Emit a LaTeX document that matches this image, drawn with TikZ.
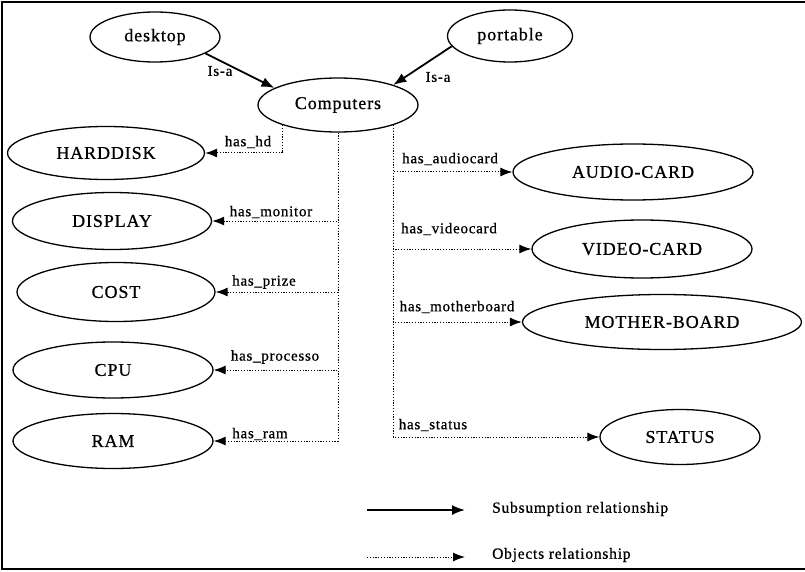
\documentclass[tikz,border=0pt]{standalone}
\usepackage{fontspec}
\setmainfont{Liberation Serif}
\newfontfamily\spacedserif[LetterSpace=5,FakeBold=0.8]{Liberation Serif}
\usetikzlibrary{shapes.geometric,arrows.meta}

\begin{document}
\begin{tikzpicture}[x=1pt,y=-1pt,
  concept/.style={draw,ellipse,line width=1.3pt,inner sep=0pt,
    font=\spacedserif\fontsize{18}{20}\selectfont},
  lbl/.style={inner sep=0pt,font=\spacedserif\fontsize{15}{17}\selectfont},
  legendtext/.style={inner sep=0pt,anchor=west,
    font=\spacedserif\fontsize{15.5}{17}\selectfont},
  isa/.style={line width=1.8pt,-{Latex[length=13pt,width=10pt]}},
  hasrel/.style={line width=1pt,dash pattern=on 1.2pt off 1.6pt,
    -{Latex[length=12pt,width=9pt]}},
]
\useasboundingbox (0,0) rectangle (805,572);

% frame (right side runs off the page)
\draw[line width=2pt] (808,2.5) -- (1.5,2.5) -- (1.5,569) -- (808,569);

% concepts
\node[concept,minimum width=130,minimum height=50] (desktop)  at (155,37)  {desktop};
\node[concept,minimum width=125,minimum height=52] (portable) at (510,36)  {portable};
\node[concept,minimum width=160,minimum height=54] (comp)     at (338,105) {Computers};

\node[concept,minimum width=197,minimum height=53] (hdd)  at (106,153) {HARDDISK};
\node[concept,minimum width=199,minimum height=57] (disp) at (112,221) {DISPLAY};
\node[concept,minimum width=198,minimum height=59] (cost) at (116,292) {COST};
\node[concept,minimum width=200,minimum height=56] (cpu)  at (113,370) {CPU};
\node[concept,minimum width=200,minimum height=55] (ram)  at (113,441) {RAM};

\node[concept,minimum width=240,minimum height=56] (audio)  at (633,172) {AUDIO-CARD};
\node[concept,minimum width=220,minimum height=58] (video)  at (642,249) {VIDEO-CARD};
\node[concept,minimum width=279,minimum height=55] (mboard) at (662,322) {MOTHER-BOARD};
\node[concept,minimum width=160,minimum height=55] (status) at (680,437) {STATUS};

% subsumption
\draw[isa] (desktop.-18) -- (comp.165);
\draw[isa] (portable.190) -- (comp.20);
\node[lbl] (isa1) at (220,71) {Is-a};
\node[lbl] (isa2) at (438,77) {Is-a};

% object relations, left side
\draw[hasrel] (comp.200) |- (hdd.east);
\draw[hasrel] (comp.south) |- (disp.east);
\draw[hasrel] (comp.south) |- (cost.east);
\draw[hasrel] (comp.south) |- (cpu.east);
\draw[hasrel] (comp.south) |- (ram.east);
\node[lbl] (l-hd)   at (248,142) {has\_hd};
\node[lbl] (l-mon)  at (271,212) {has\_monitor};
\node[lbl] (l-pri)  at (264,282) {has\_prize};
\node[lbl] (l-proc) at (275,357) {has\_processo};
\node[lbl] (l-ram)  at (260,434) {has\_ram};

% object relations, right side
\draw[hasrel] (comp.-20) |- (audio.west);
\draw[hasrel] (comp.-20) |- (video.west);
\draw[hasrel] (comp.-20) |- (mboard.west);
\draw[hasrel] (comp.-20) |- (status.west);
\node[lbl] (l-aud) at (450,159) {has\_audiocard};
\node[lbl] (l-vid) at (449,229) {has\_videocard};
\node[lbl] (l-mb)  at (457,307) {has\_motherboard};
\node[lbl] (l-st)  at (433,425) {has\_status};

% legend
\coordinate (s1) at (367,510);
\coordinate (s2) at (465,510);
\coordinate (o1) at (367,557);
\coordinate (o2) at (465,557);
\draw[isa] (s1) -- (s2);
\draw[hasrel] (o1) -- (o2);
\node[legendtext] (leg-s) at (492,509) {Subsumption relationship};
\node[legendtext] (leg-o) at (492,555) {Objects relationship};
\end{tikzpicture}
\end{document}
